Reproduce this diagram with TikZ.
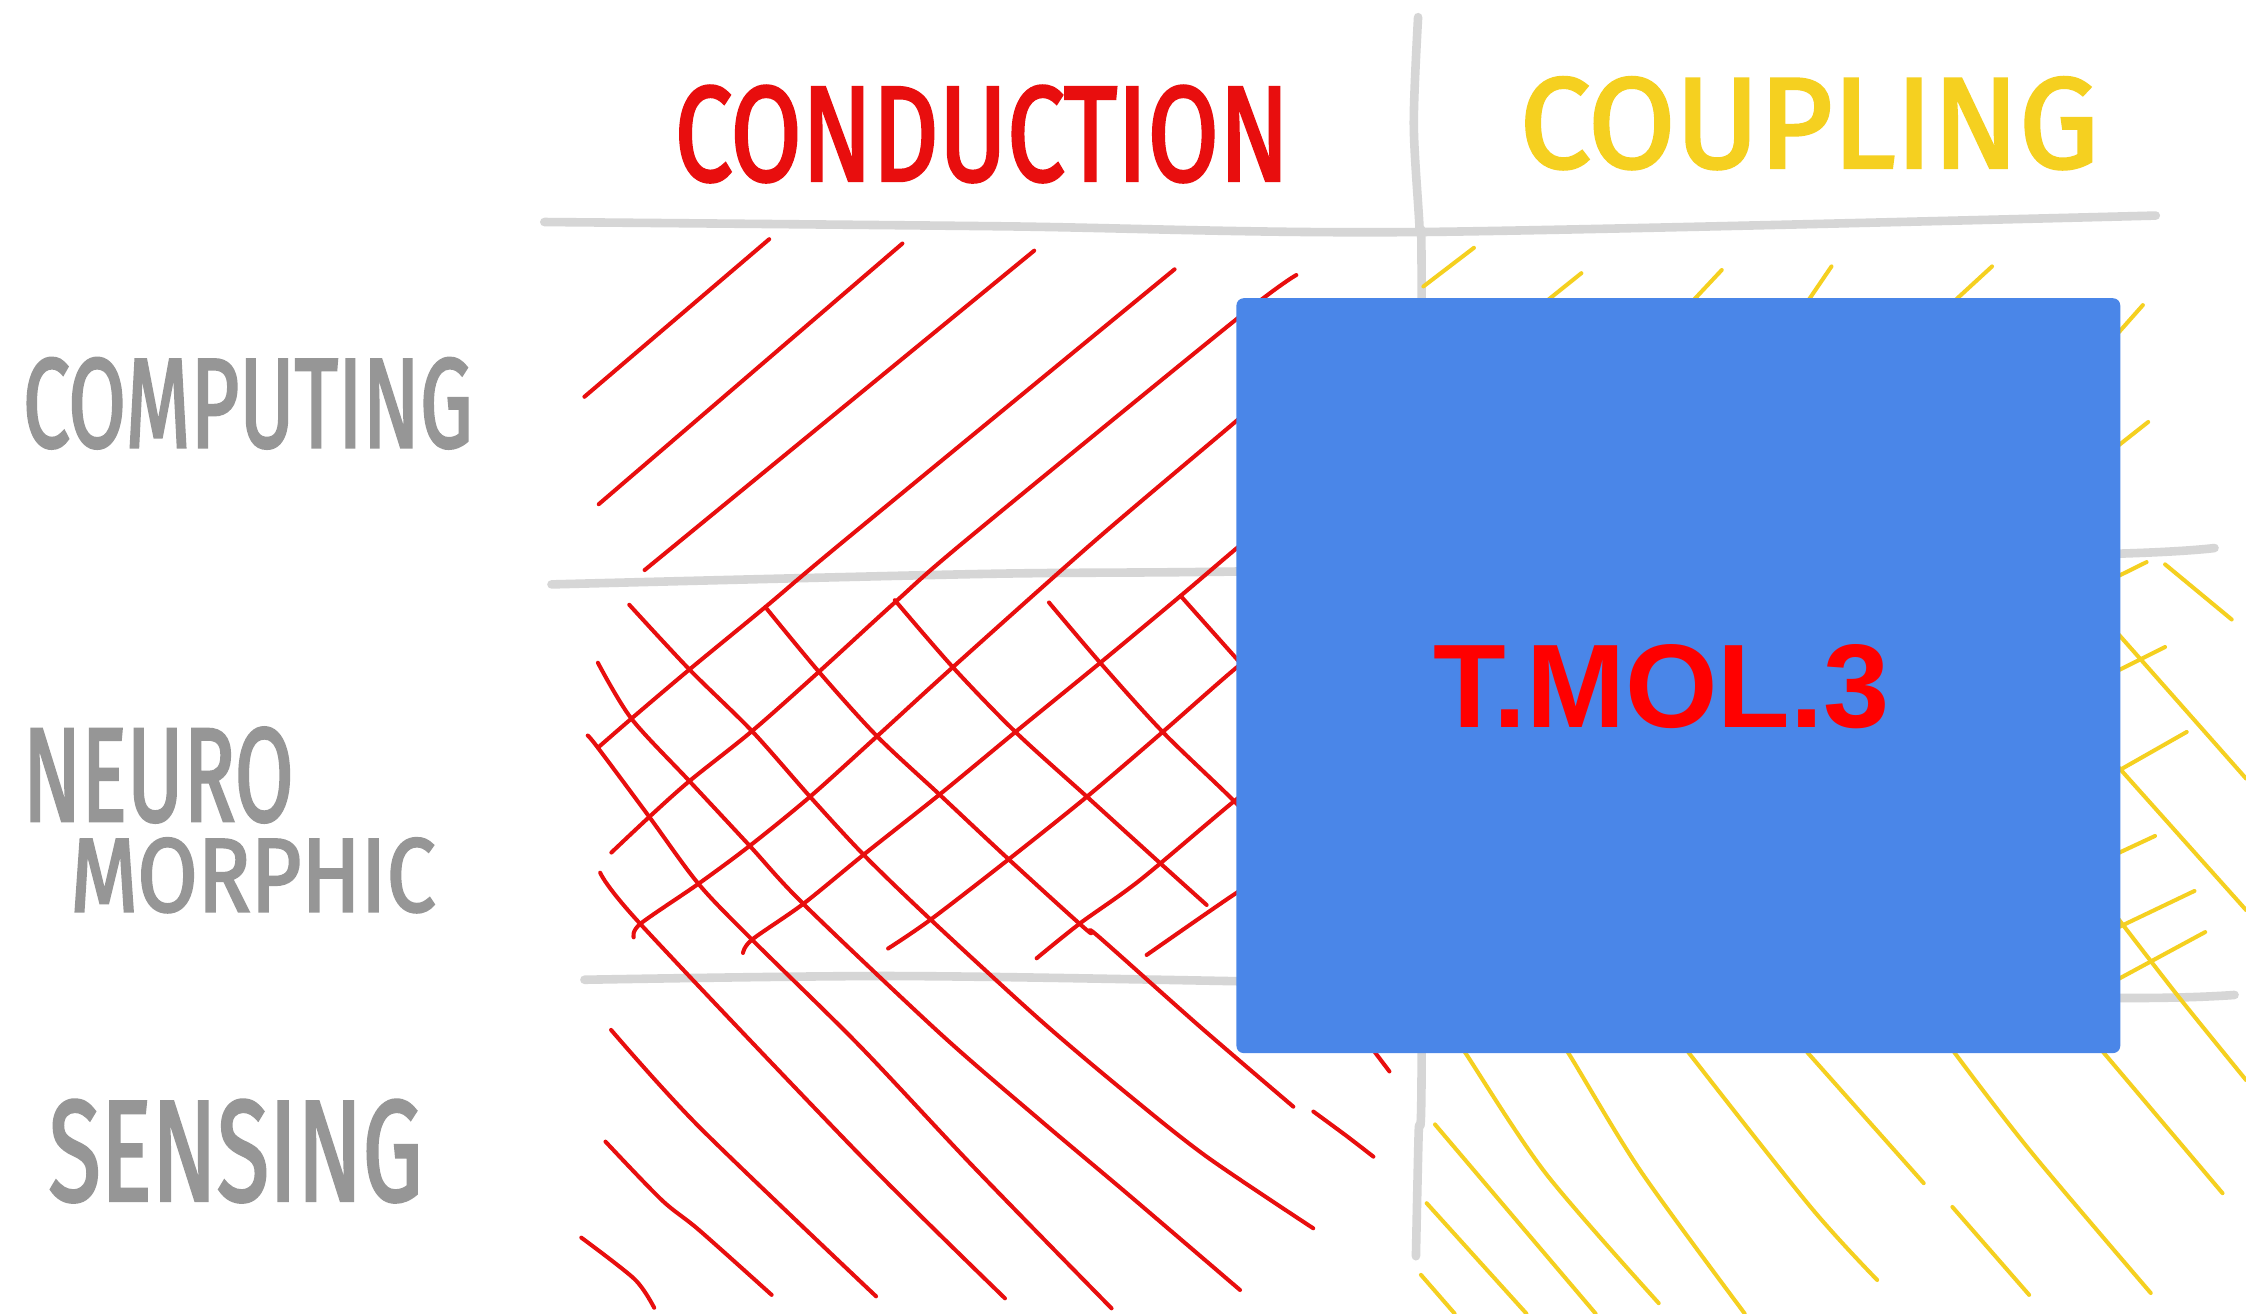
\documentclass[tikz,border=0pt]{standalone}
\usepackage{fontspec}
\newfontfamily\handfont[FakeBold=2.5]{Fira Sans}
\newfontfamily\boxfont{Liberation Sans}
\definecolor{gridgray}{RGB}{214,214,214}
\definecolor{inkgray}{RGB}{150,150,150}
\definecolor{inkred}{RGB}{232,14,14}
\definecolor{inkyellow}{RGB}{245,208,32}
\definecolor{panelblue}{RGB}{74,134,232}
\definecolor{labelred}{RGB}{255,0,0}
\tikzset{
  gridline/.style={gridgray, line width=6pt, line cap=round, line join=round},
  redhatch/.style={inkred, line width=2.8pt, line cap=round, line join=round},
  yelhatch/.style={inkyellow, line width=2.8pt, line cap=round, line join=round},
  handlabel/.style={anchor=north west, inner sep=0pt, outer sep=0pt},
}
\newcommand{\hand}[4]{\resizebox{#1pt}{#2pt}{\color{#3}\handfont #4}}

\begin{document}
\begin{tikzpicture}[x=1pt,y=-1pt]
\fill[white] (0,0) rectangle (1568,917);
\useasboundingbox (0,0) rectangle (1568,917);

% ---- grid of the matrix ----
\draw[gridline] plot[smooth] coordinates {(380,155) (700,158) (990,162) (1505,150.5)};
\draw[gridline] plot[smooth] coordinates {(990,12) (987,87) (991,159) (992.5,208) (992.5,735) (990.4,791) (988.5,877)};
\draw[gridline] plot[smooth] coordinates {(385,408) (685.5,400.7) (863,399) (1200,393) (1480,386.5) (1546,382.6)};
\draw[gridline] plot[smooth] coordinates {(408,684) (623.5,681.4) (863,685) (1200,692) (1480,696.7) (1560,694.6)};

% ---- conduction hatching: rising strokes ----
\draw[redhatch] (408,277) -- (537,167);
\draw[redhatch] (418,352) -- (630,170);
\draw[redhatch] (450,398) -- (722,175);
\draw[redhatch] plot[smooth] coordinates {(820,188) (590,377) (534.3,423.8) (481.3,467.4) (440.8,501.7) (417.4,522)};
\draw[redhatch] plot[smooth] coordinates {(905,192) (863,223) (674.6,377) (624.7,420.6) (571.7,469) (525,510.4) (481.3,545.3) (453.3,570.3) (426.8,595.2)};
\draw[redhatch] plot[smooth] coordinates {(900,262) (863,294) (765,377) (665.2,465.8) (612.3,514) (565.5,556.2) (523.4,590.5) (487.6,617) (447,645) (442.4,654.4)};
\draw[redhatch] plot[smooth] coordinates {(900,352) (863,383) (824.2,416) (768.1,462.7) (708.9,511) (655.9,554.7) (602.9,596.7) (560.8,631) (525,656) (518.7,665.3)};
\draw[redhatch] plot[smooth] coordinates {(900,437) (861.6,467.4) (811.7,511) (758.8,556.2) (704.2,599.9) (649.7,642) (620,662.2)};
\draw[redhatch] plot[smooth] coordinates {(900,530) (861.6,559.3) (795.9,614.4) (754,644.6) (723.7,669)};
\draw[redhatch] plot[smooth] coordinates {(900,600) (861,624.8) (800.5,666.7)};

% ---- conduction hatching: falling strokes ----
\draw[redhatch] plot[smooth] coordinates {(439.3,422.2) (481.3,467.4) (525,510.4) (565.5,556.2) (602.9,596.7) (649.7,642) (726,712) (786.6,763.3) (842.4,807.5) (916.8,857.5)};
\draw[redhatch] plot[smooth] coordinates {(417.4,462.7) (440.8,501.7) (481.3,545.3) (523.4,590.5) (560.8,631) (656.2,721.4) (726,781.9) (786.6,833) (865.7,900.6)};
\draw[redhatch] plot[smooth] coordinates {(410.3,513.5) (417.4,522) (453.3,570.3) (487.6,617) (525,656) (600,730) (680,815) (776,913.4)};
\draw[redhatch] plot[smooth] coordinates {(419,609.2) (447,645) (600,806) (701.6,906.4)};
\draw[redhatch] plot[smooth] coordinates {(534.3,423.8) (571.7,469) (612.3,514) (655.9,554.7) (704.2,599.9) (758.7,649.3) (765.6,652.7) (837.8,716.8) (902.9,772.6)};
\draw[redhatch] plot[smooth] coordinates {(916.9,776) (940,793) (958.8,807.5)};
\draw[redhatch] plot[smooth] coordinates {(624.7,419) (665.2,465.8) (708.9,511) (758.8,556.2) (808.6,601.4) (842.4,631.8)};
\draw[redhatch] plot[smooth] coordinates {(732.3,420.6) (768.1,462.7) (811.7,511) (861.6,559.3) (900,600)};
\draw[redhatch] (824.2,416) -- (861.6,458) -- (890,490);
\draw[redhatch] (945,715) -- (970,748);
\draw[redhatch] plot[smooth] coordinates {(405.8,864) (443,893) (456.7,913)};
\draw[redhatch] plot[smooth] coordinates {(422.7,797) (462,837.8) (488,858.7) (538.7,904)};
\draw[redhatch] plot[smooth] coordinates {(426.6,719) (488,786.6) (611.6,905)};

% ---- coupling hatching ----
\draw[yelhatch] (1029,173) -- (993.7,200);
\draw[yelhatch] (1104,190.7) -- (1060,226);
\draw[yelhatch] (1202,188.5) -- (1165,228);
\draw[yelhatch] (1278.6,186) -- (1250,228);
\draw[yelhatch] (1390.7,186) -- (1345,228);
\draw[yelhatch] (1496,213) -- (1465,248);
\draw[yelhatch] (1465,322) -- (1499.7,294.6);
\draw[yelhatch] (1465,409) -- (1498.6,392.4);
\draw[yelhatch] (1465,475) -- (1511.5,451.7);
\draw[yelhatch] (1465,546) -- (1526.6,511);
\draw[yelhatch] (1465,602) -- (1504.5,583.6);
\draw[yelhatch] (1465,654) -- (1532,622);
\draw[yelhatch] (1465,691) -- (1539.5,650.7);
\draw[yelhatch] (1511.5,394) -- (1558,432.5);
\draw[yelhatch] (1465,427) -- (1568,543.5);
\draw[yelhatch] (1465,520) -- (1568,635.3);
\draw[yelhatch] plot[smooth] coordinates {(1465,623) (1480,643) (1522.6,698) (1568,754)};
\draw[yelhatch] plot[smooth] coordinates {(1010,715) (1023,735) (1079,819) (1158,909.8)};
\draw[yelhatch] plot[smooth] coordinates {(1080,715) (1094.8,735) (1145,817) (1218,917)};
\draw[yelhatch] (1001.8,785) -- (1113.9,917);
\draw[yelhatch] (996,840) -- (1065.6,917);
\draw[yelhatch] (992,890) -- (1015.5,917);
\draw[yelhatch] plot[smooth] coordinates {(1165,715) (1179,735) (1264,842.6) (1310.5,893.6)};
\draw[yelhatch] (1250,715) -- (1262,735) -- (1343,826);
\draw[yelhatch] plot[smooth] coordinates {(1352,715) (1364.6,735) (1418.6,805) (1501.5,902.7)};
\draw[yelhatch] (1363,842.6) -- (1416.6,904);
\draw[yelhatch] (1455,715) -- (1468.7,735) -- (1551.6,833);

% ---- column and row headings ----
\node[handlabel] (conduction) at (471,60) {\hand{429}{66}{inkred}{CONDUCTION}};
\node[handlabel] (coupling) at (1061,54) {\hand{404}{63}{inkyellow}{COUPLING}};
\node[handlabel] (computing) at (16,250) {\hand{314}{62}{inkgray}{COMPUTING}};
\node[handlabel, align=left] (neuromorphic) at (16,508)
  {\hand{189}{65}{inkgray}{NEURO}\\[10pt]\hspace*{33pt}\hand{255}{51}{inkgray}{MORPHIC}};
\node[handlabel] (sensing) at (34,768) {\hand{261}{70}{inkgray}{SENSING}};

% ---- panel over the matrix ----
\node[anchor=north west, fill=panelblue, rounded corners=5pt, inner sep=0pt,
      minimum width=617pt, minimum height=527pt] (panel) at (863,208) {};
\node[anchor=base, inner sep=0pt, text=labelred, font=\boxfont\bfseries\fontsize{83}{83}\selectfont] (tmol) at (1160,508) {T.MOL.3};
\end{tikzpicture}
\end{document}
